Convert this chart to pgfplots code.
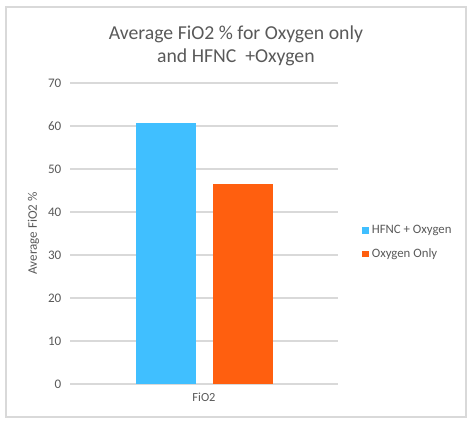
\documentclass[border=0pt]{standalone}
\usepackage{pgfplots}
\pgfplotsset{compat=1.18}
\usepackage{fontspec}
\setmainfont{Carlito}
\definecolor{txt}{HTML}{595959}
\definecolor{gridc}{HTML}{D9D9D9}
\definecolor{cblue}{HTML}{40BFFF}
\definecolor{corange}{HTML}{FF5F0F}
\begin{document}
\begin{tikzpicture}
\begin{axis}[
  name=ax,
  scale only axis,
  width=201pt, height=225.75pt,
  ymin=0, ymax=70, ytick={0,10,...,70},
  xmin=-1, xmax=1,
  xtick={0}, xticklabels={FiO2},
  ybar=12.75pt, bar width=45pt,
  axis line style={draw=none},
  major tick length=0pt,
  ymajorgrids, grid style={gridc, line width=0.8pt},
  tick label style={text=txt},
  yticklabel style={font=\fontsize{9.8}{11}\selectfont, xshift=-3pt},
  xticklabel style={font=\fontsize{9.3}{11}\selectfont, yshift=-3pt},
  /pgf/number format/assume math mode=true,
  ylabel={Average FiO2 \%},
  ylabel style={at={(axis description cs:-0.136,0.5)}, anchor=center, font=\fontsize{9.8}{11}\selectfont, text=txt},
  title={Average FiO2 \% for Oxygen only\\and HFNC\ \ +Oxygen},
  title style={at={(axis description cs:0.619,1.098)}, anchor=center, align=center, font=\fontsize{14.8}{17.4}\selectfont, text=txt},
  legend style={at={(axis description cs:1.075,0.47)}, anchor=west, draw=none, fill=none, font=\fontsize{9.6}{11}\selectfont, text=txt, row sep=5.5pt},
  legend cell align=left,
  legend image code/.code={\fill[#1] (0cm,-0.09cm) rectangle (0.18cm,0.09cm);},
  clip=false,
]
\addplot[fill=cblue, draw=none] coordinates {(0,60.8)};
\addplot[fill=corange, draw=none] coordinates {(0,46.6)};
\legend{HFNC + Oxygen, Oxygen Only}
\end{axis}
\path (ax.south west) ++(-52.5pt,-30.75pt) coordinate (bl);
\path (ax.north east) ++(102pt,62.25pt) coordinate (tr);
\path[use as bounding box] (bl) rectangle (tr);
\draw[gridc, line width=0.8pt] ([shift={(4.5pt,6pt)}]bl) rectangle ([shift={(-6pt,-5.25pt)}]tr);
\end{tikzpicture}
\end{document}
